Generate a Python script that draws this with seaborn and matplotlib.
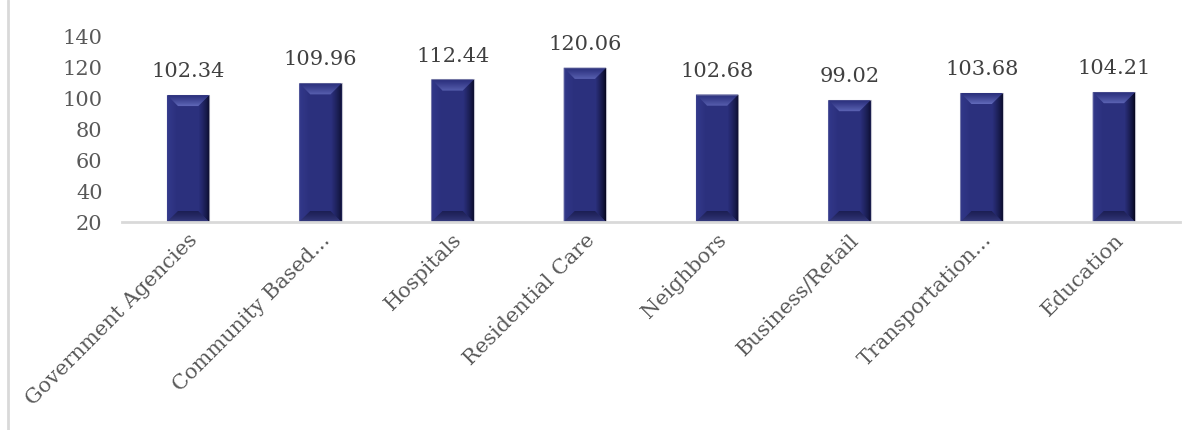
import numpy as np
import pandas as pd
import seaborn as sns
import matplotlib
matplotlib.use("Agg")
import matplotlib.pyplot as plt
from matplotlib.patches import Polygon
from matplotlib.lines import Line2D
from matplotlib.colors import to_rgb

categories = ["Government Agencies", "Community Based...", "Hospitals",
              "Residential Care", "Neighbors", "Business/Retail",
              "Transportation...", "Education"]
values = [102.34, 109.96, 112.44, 120.06, 102.68, 99.02, 103.68, 104.21]
y_ticks = [20, 40, 60, 80, 100, 120, 140]

sns.set_theme(style="white")
plt.rcParams["font.family"] = ["DejaVu Serif"]

TEXT = "#595959"
BAR = "#2b307d"

df = pd.DataFrame({"category": categories, "value": values})

fig = plt.figure(figsize=(12.02, 4.30), dpi=100)
ax = fig.add_axes([122 / 1202, 1 - 222 / 430, (1180 - 122) / 1202, (222 - 37) / 430])

sns.barplot(data=df, x="category", y="value", color=BAR, width=0.32,
            saturation=1, ax=ax, edgecolor="#c4c4d0", linewidth=0.8)

ax.set_ylim(20, 140)
ax.set_xlim(-0.5, len(categories) - 0.5)
ax.set_yticks(y_ticks)
ax.set_yticklabels([str(t) for t in y_ticks], fontsize=15, color=TEXT)
ax.tick_params(axis="y", length=0, pad=14)
ax.tick_params(axis="x", length=0, pad=6)
ax.set_xticks(range(len(categories)))
ax.set_xticklabels(categories, rotation=45, ha="right", va="top",
                   rotation_mode="anchor", fontsize=15, color=TEXT)
ax.set_xlabel("")
ax.set_ylabel("")
for side in ["top", "right", "left"]:
    ax.spines[side].set_visible(False)
ax.spines["bottom"].set_color("#d9d9d9")
ax.spines["bottom"].set_linewidth(2)
ax.spines["bottom"].set_zorder(5)


def mix(c1, c2, t):
    a, b = np.array(to_rgb(c1)), np.array(to_rgb(c2))
    return tuple(a + (b - a) * t)


# bevelled shading on each bar, built from thin inset strips
fig.canvas.draw()
inv = ax.transData.inverted()
N = 11
for p in ax.patches:
    x0, w = p.get_x(), p.get_width()
    y1 = p.get_y() + p.get_height()
    (px0, py0) = ax.transData.transform((x0, 20))
    (px1, py1) = ax.transData.transform((x0 + w, y1))

    def d(xp, yp):
        return inv.transform((xp, yp))

    for k in range(N):
        a, b = k, k + 1
        t = k / (N - 1)
        top = [d(px0 + a, py1 - a), d(px1 - a, py1 - a),
               d(px1 - b, py1 - b), d(px0 + b, py1 - b)]
        bot = [d(px0 + a, py0 + a), d(px1 - a, py0 + a),
               d(px1 - b, py0 + b), d(px0 + b, py0 + b)]
        rgt = [d(px1 - a, py0 + a), d(px1 - a, py1 - a),
               d(px1 - b, py1 - b), d(px1 - b, py0 + b)]
        lft = [d(px0 + a, py0 + a), d(px0 + a, py1 - a),
               d(px0 + b, py1 - b), d(px0 + b, py0 + b)]
        ax.add_patch(Polygon(rgt, facecolor=mix("#06071f", BAR, t ** 0.8),
                             edgecolor="none", zorder=3))
        ax.add_patch(Polygon(lft, facecolor=mix("#343a8c", BAR, t),
                             edgecolor="none", zorder=3))
        ax.add_patch(Polygon(bot, facecolor=mix("#3a3f86", "#1c1f55", t ** 0.6),
                             edgecolor="none", zorder=3))
        ax.add_patch(Polygon(top, facecolor=mix(BAR, "#6068b8", t ** 1.1),
                             edgecolor="none", zorder=3))

for i, v in enumerate(values):
    ax.annotate(f"{v:.2f}", (i, v), xytext=(0, 10), textcoords="offset points",
                ha="center", va="bottom", fontsize=15, color="#404040")

fig.add_artist(Line2D([8 / 1202, 8 / 1202], [0, 1], color="#d9d9d9", linewidth=2,
                      transform=fig.transFigure))

fig.savefig("out.png", dpi=100)
